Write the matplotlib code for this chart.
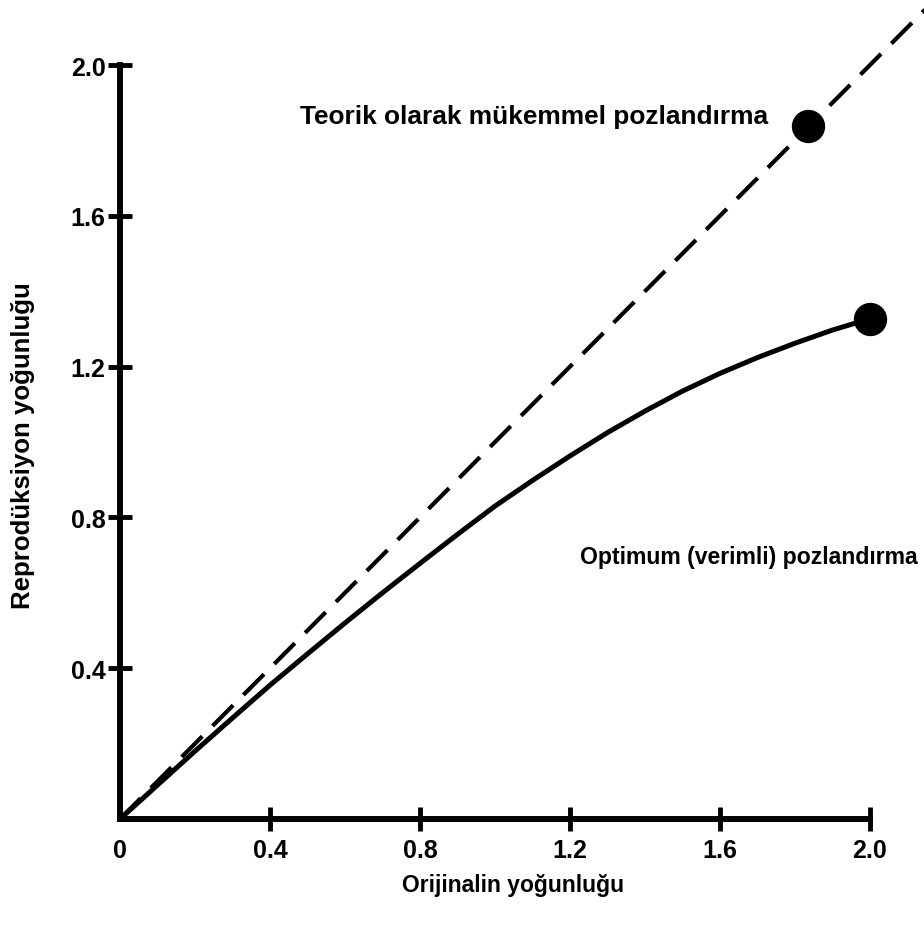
import matplotlib
matplotlib.use("Agg")
import matplotlib.pyplot as plt

plt.rcParams['font.family'] = ['Liberation Sans', 'DejaVu Sans']
plt.rcParams['font.weight'] = 'bold'

# ideal exposure (dashed diagonal)
ideal_x = [0, 2.3]
ideal_y = [0, 2.3]
ideal_pt = (1.835, 1.838)

# optimum exposure curve
opt_x = [0, 0.1, 0.2, 0.3, 0.4, 0.5, 0.6, 0.7, 0.8, 0.9, 1.0, 1.1,
         1.2, 1.3, 1.4, 1.5, 1.6, 1.7, 1.8, 1.9, 2.0]
opt_y = [0, 0.09, 0.18, 0.268, 0.355, 0.438, 0.52, 0.60, 0.678, 0.755,
         0.83, 0.898, 0.963, 1.025, 1.082, 1.135, 1.182, 1.224, 1.262,
         1.297, 1.327]

xticks = [0, 0.4, 0.8, 1.2, 1.6, 2.0]
xtick_labels = ['0', '0.4', '0.8', '1.2', '1.6', '2.0']
yticks = [0.4, 0.8, 1.2, 1.6, 2.0]
ytick_labels = ['0.4', '0.8', '1.2', '1.6', '2.0']

fig = plt.figure(figsize=(9.24, 9.28), dpi=100)
ax = fig.add_axes([120 / 924, 108 / 928, 750 / 924, 754 / 928])

ax.plot(ideal_x, ideal_y, color='black', lw=3, dashes=(7, 3.5), clip_on=False)
ax.plot(opt_x, opt_y, color='black', lw=3.6, solid_capstyle='round',
        solid_joinstyle='round', clip_on=False)
ax.plot(*ideal_pt, 'o', color='black', ms=23, clip_on=False)
ax.plot(opt_x[-1], opt_y[-1], 'o', color='black', ms=23, clip_on=False)

ax.text(0.48, 1.865, 'Teorik olarak mükemmel pozlandırma', fontsize=18.9,
        fontweight='bold', ha='left', va='center')
ax.text(1.227, 0.696, 'Optimum (verimli) pozlandırma', fontsize=16.6,
        fontweight='bold', ha='left', va='center')

ax.set_xlim(0, 2.0)
ax.set_ylim(0, 2.0)
for s in ['top', 'right']:
    ax.spines[s].set_visible(False)
for s in ['left', 'bottom']:
    ax.spines[s].set_linewidth(4.3)

ax.set_xticks(xticks)
ax.set_xticklabels(xtick_labels)
ax.set_yticks(yticks)
ax.set_yticklabels(ytick_labels)
ax.tick_params(axis='both', direction='inout', length=17, width=3.5, labelsize=18)
ax.tick_params(axis='x', pad=5)
ax.tick_params(axis='y', pad=2)
ax.xaxis.get_major_ticks()[0].tick1line.set_visible(False)

ax.set_xlabel('Orijinalin yoğunluğu', fontsize=16.5, fontweight='bold')
ax.set_ylabel('Reprodüksiyon yoğunluğu', fontsize=18.6, fontweight='bold')
ax.xaxis.set_label_coords(0.524, -0.071)
ax.yaxis.set_label_coords(-0.113, 0.497)

fig.savefig('out.png', dpi=100)
